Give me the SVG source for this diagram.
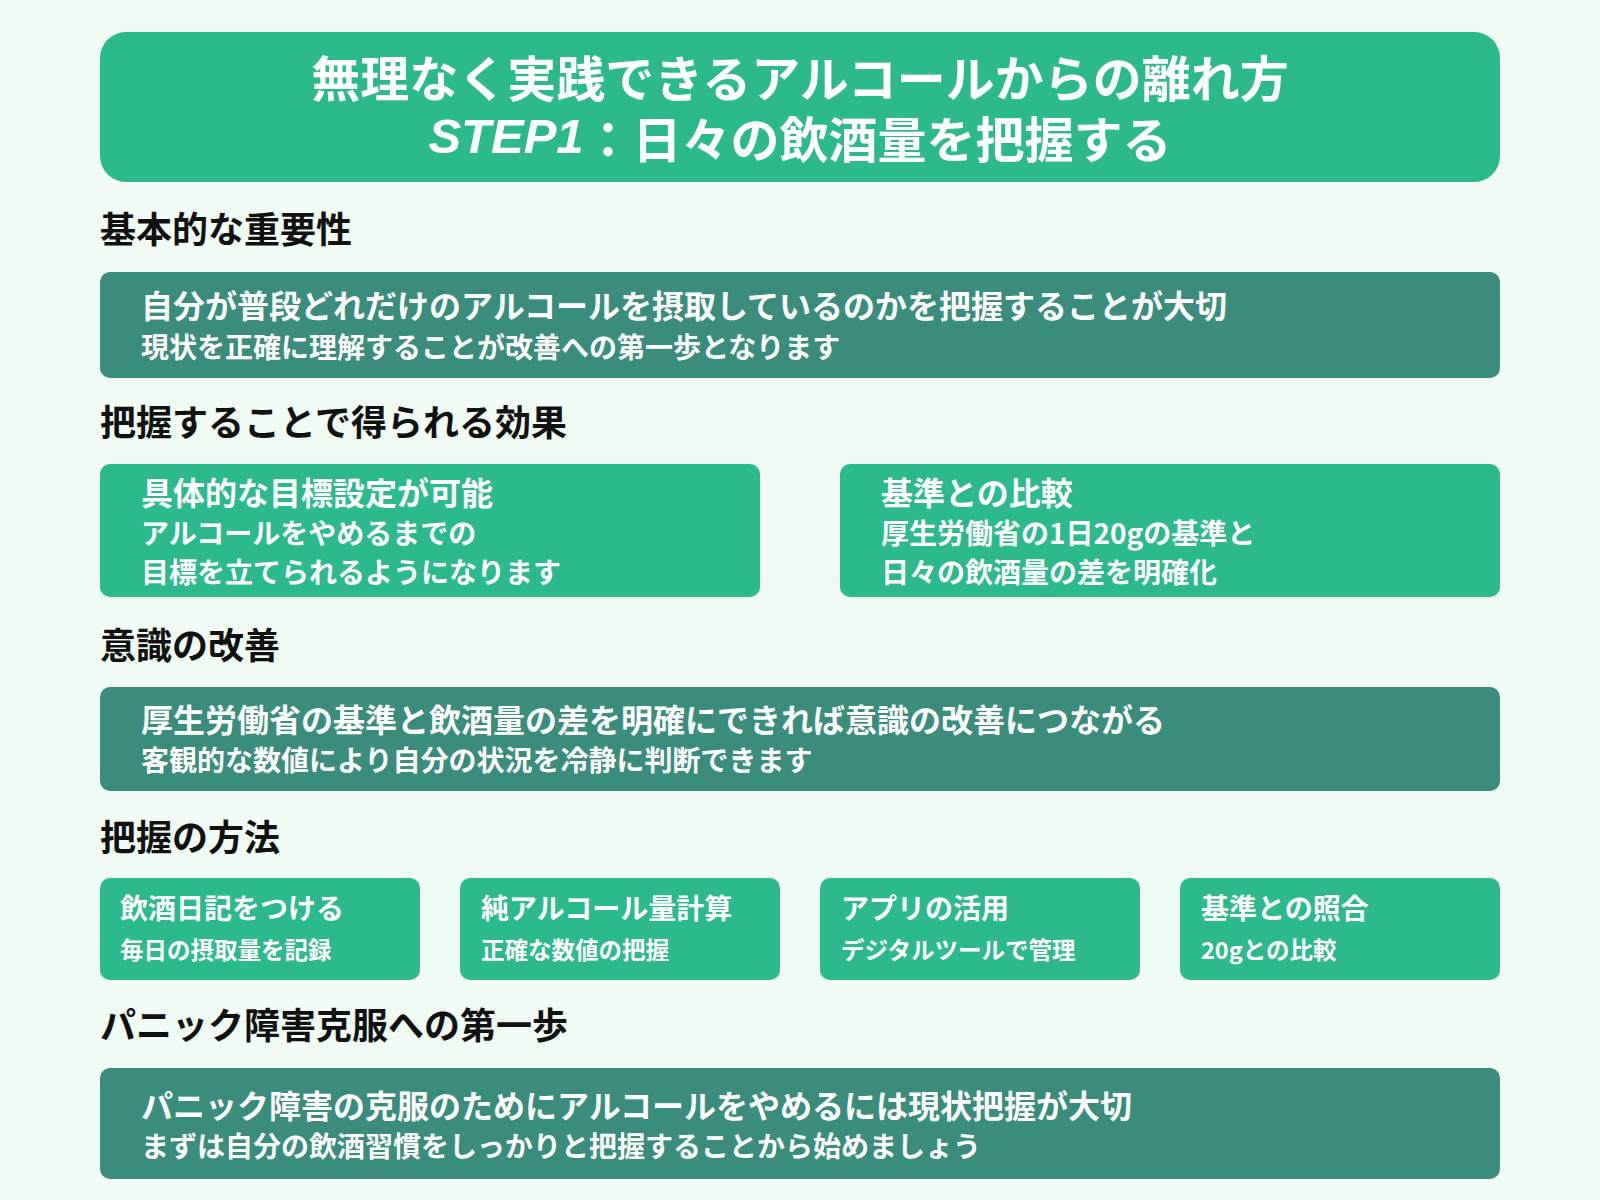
<svg xmlns="http://www.w3.org/2000/svg" width="1600" height="1200" viewBox="0 0 1600 1200">
<style>
text{font-family:"Noto Sans CJK JP","Noto Sans",sans-serif;font-weight:bold;dominant-baseline:central}
.h{font-size:36px;fill:#111}
.w{fill:#fff}
.t1{font-size:32px}
.t2{font-size:28px}
.s1{font-size:28px}
.s2{font-size:23.5px}
.dark{fill:#3a8c7c}
.lite{fill:#2bb98d}
</style>
<rect width="1600" height="1200" fill="#effbf3"/>
<g id="title"><rect x="100" y="32" width="1400" height="150" rx="26" class="lite"/>
<text x="800" y="75" text-anchor="middle" class="w" font-size="49">無理なく実践できるアルコールからの離れ方</text>
<text x="800" y="136" text-anchor="middle" class="w" font-size="49"><tspan font-style="italic" font-family="Liberation Sans,sans-serif">STEP1</tspan>：日々の飲酒量を把握する</text></g>
<g id="h1"><text x="100" y="227" class="h">基本的な重要性</text></g>
<g id="box1"><rect x="100" y="272" width="1400" height="106" rx="10" class="dark"/>
<text x="141" y="304" class="w t1">自分が普段どれだけのアルコールを摂取しているのかを把握することが大切</text>
<text x="141" y="346" class="w t2">現状を正確に理解することが改善への第一歩となります</text></g>
<g id="h2"><text x="100" y="420" class="h">把握することで得られる効果</text></g>
<g id="box2a"><rect x="100" y="464" width="660" height="133" rx="10" class="lite"/>
<text x="141" y="491" class="w t1">具体的な目標設定が可能</text>
<text x="141" y="532" class="w t2">アルコールをやめるまでの</text>
<text x="141" y="571" class="w t2">目標を立てられるようになります</text></g>
<g id="box2b"><rect x="840" y="464" width="660" height="133" rx="10" class="lite"/>
<text x="881" y="491" class="w t1">基準との比較</text>
<text x="881" y="532" class="w t2">厚生労働省の1日20gの基準と</text>
<text x="881" y="571" class="w t2">日々の飲酒量の差を明確化</text></g>
<g id="h3"><text x="100" y="643" class="h">意識の改善</text></g>
<g id="box3"><rect x="100" y="687" width="1400" height="104" rx="10" class="dark"/>
<text x="141" y="718" class="w t1">厚生労働省の基準と飲酒量の差を明確にできれば意識の改善につながる</text>
<text x="141" y="759" class="w t2">客観的な数値により自分の状況を冷静に判断できます</text></g>
<g id="h4"><text x="100" y="835" class="h">把握の方法</text></g>
<g id="m1"><rect x="100" y="878" width="320" height="102" rx="10" class="lite"/>
<text x="120" y="907" class="w s1" font-size="26">飲酒日記をつける</text><text x="120" y="949" class="w s2">毎日の摂取量を記録</text></g>
<g id="m2"><rect x="460" y="878" width="320" height="102" rx="10" class="lite"/>
<text x="481" y="907" class="w s1">純アルコール量計算</text><text x="481" y="949" class="w s2">正確な数値の把握</text></g>
<g id="m3"><rect x="820" y="878" width="320" height="102" rx="10" class="lite"/>
<text x="841" y="907" class="w s1">アプリの活用</text><text x="841" y="949" class="w s2">デジタルツールで管理</text></g>
<g id="m4"><rect x="1180" y="878" width="320" height="102" rx="10" class="lite"/>
<text x="1201" y="907" class="w s1">基準との照合</text><text x="1201" y="949" class="w s2">20gとの比較</text></g>
<g id="h5"><text x="100" y="1023" class="h">パニック障害克服への第一歩</text></g>
<g id="box5"><rect x="100" y="1068" width="1400" height="111" rx="10" class="dark"/>
<text x="141" y="1104" class="w t1">パニック障害の克服のためにアルコールをやめるには現状把握が大切</text>
<text x="141" y="1145" class="w t2">まずは自分の飲酒習慣をしっかりと把握することから始めましょう</text></g>
<g id="connectors"/>
</svg>
